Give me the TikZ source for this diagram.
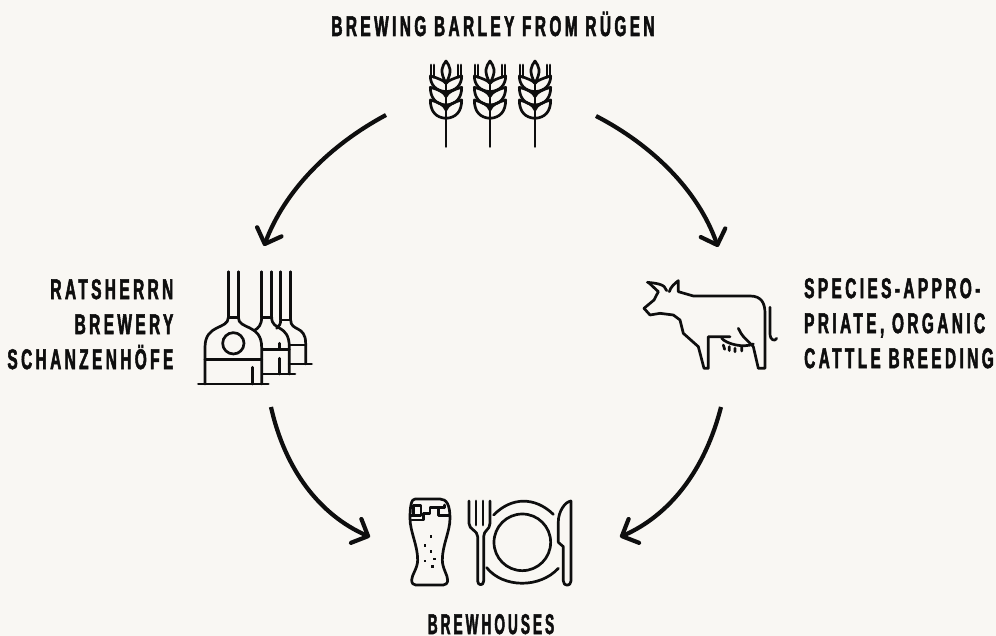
\documentclass[tikz,border=0pt]{standalone}
\usepackage{fontspec}
\usepackage{graphicx}
\setmainfont[BoldFont={Liberation Sans Bold},BoldFeatures={FakeStretch=0.54,LetterSpace=12,FakeBold=1.8}]{Liberation Sans}
\usetikzlibrary{arrows.meta}
\definecolor{paper}{HTML}{F9F7F3}
\definecolor{ink}{HTML}{0E0E0E}
\tikzset{
  lbl/.style={inner sep=0pt,font=\fontsize{28.5}{35}\selectfont\bfseries,text=ink},
  flow/.style={draw=ink,line width=4.2pt,-{Straight Barb[length=13pt,width=26pt,line width=4.2pt,round]}},
  icon/.style={draw=ink,line width=2.7pt,line join=round,line cap=round,x=0.3333pt,y=-0.3333pt}
}
\newcommand{\wheatear}[1]{%
\begin{scope}[shift={(#1,50)}]\begin{scope}[icon]
 \draw (0,33) .. controls (-12,50) and (-20,62) .. (0,100) .. controls (20,62) and (12,50) .. (0,33);
 \draw (0,100) -- (0,290);
 \draw (-45,45) -- (-45,75) (-36,45) -- (-36,82) (45,45) -- (45,75) (36,45) -- (36,82);
 \foreach \b/\t in {125/78,165/112,205/150}{
  \foreach \s in {-1,1}{
   \draw (0,\b) .. controls (\s*30,\b-2) and (\s*47,\b-20) .. (\s*47,\t) .. controls (\s*25,\t+6) and (\s*5,\t+14) .. (0,\b-25);
  }
 }
\end{scope}\end{scope}}
\begin{document}
\begin{tikzpicture}[x=1pt,y=-1pt]
\useasboundingbox (0,0) rectangle (996,636);
\fill[paper] (0,0) rectangle (996,636);
% labels
\node[lbl,anchor=base] (barley) at (493,36) {BREWING BARLEY FROM RÜGEN};
\node[lbl,anchor=north east,align=right] (brewery) at (173.5,279) {RATSHERRN\\BREWERY\\SCHANZENHÖFE};
\node[lbl,anchor=north west,align=left] (cattle) at (804,278) {SPECIES-APPRO-\\PRIATE, ORGANIC\\CATTLE BREEDING};
\node[lbl,anchor=base] (brewhouses) at (491,634) {\scalebox{.885}[1]{BREWHOUSES}};
% wheat
\wheatear{446}\wheatear{490}\wheatear{535}
% brewery icon
\begin{scope}[shift={(190,260)}]\begin{scope}[icon]
 \draw (115,35) -- (115,172) -- (145,172) -- (145,35);
 \draw (115,172) .. controls (115,210) and (45,190) .. (45,262) -- (45,372);
 \draw (145,172) .. controls (145,210) and (215,190) .. (215,262) -- (215,372);
 \draw (25,372) -- (235,372) (45,298) -- (215,298) (188,322) -- (188,372);
 \draw (130,250) circle[radius=32];
 \draw (215,35) -- (215,172) -- (245,172) -- (245,35);
 \draw (215,172) .. controls (215,195) and (205,205) .. (192,212);
 \draw (245,172) .. controls (245,215) and (298,190) .. (298,262) -- (298,342);
 \draw (218,268) -- (298,268) (268,250) -- (268,268) (268,295) -- (268,342) (218,342) -- (315,342);
 \draw (272,35) -- (272,180) -- (302,180) -- (302,35);
 \draw (272,180) .. controls (272,192) and (268,198) .. (260,205);
 \draw (302,180) .. controls (302,215) and (347,195) .. (347,250) -- (347,312);
 \draw (298,255) -- (347,255) (298,312) -- (365,312);
\end{scope}\end{scope}
% cow icon
\begin{scope}[shift={(630,270)}]\begin{scope}[icon]
 \draw (52,37) .. controls (80,40) and (105,42) .. (110,62);
 \draw (55,37) -- (85,65) -- (72,90) -- (42,115) -- (60,135) -- (90,130) -- (130,135) -- (150,150) -- (160,190) -- (205,230) -- (222,295) -- (235,295) -- (235,200) -- (300,200);
 \draw (118,65) .. controls (122,50) and (135,40) .. (145,32) -- (145,65) -- (190,78) -- (360,78) .. controls (395,78) and (405,100) .. (405,130) -- (405,295) -- (385,295) -- (370,230) -- (345,205) .. controls (335,195) and (330,185) .. (325,175);
 \draw (275,205) .. controls (290,222) and (340,235) .. (370,222);
 \draw (280,225) -- (284,238) (298,230) -- (298,242) (315,235) -- (315,245) (335,232) -- (335,243);
 \draw (420,112) -- (420,190) .. controls (420,212) and (435,215) .. (440,205);
\end{scope}\end{scope}
% beer
\begin{scope}[shift={(395,485)}]\begin{scope}[icon]
 \draw (60,42) -- (135,42) .. controls (155,42) and (165,60) .. (165,100) .. controls (165,140) and (142,180) .. (142,225) .. controls (142,250) and (158,270) .. (158,285) .. controls (158,295) and (152,300) .. (145,300) -- (62,300) .. controls (55,300) and (50,295) .. (50,285) .. controls (50,270) and (68,250) .. (68,225) .. controls (68,180) and (45,140) .. (45,100) .. controls (45,60) and (50,42) .. (60,42);
 \draw (55,62) -- (55,90) (48,92) -- (78,92) -- (78,62) -- (55,62) (50,105) -- (85,105) -- (85,85) -- (105,85) -- (105,68) -- (148,68) (130,68) -- (130,92) -- (163,92) (148,60) -- (148,68);
 \foreach \p/\q in {108/155,90/182,108/200,118/222,90/228,112/245}{\fill[ink] (\p-4,\q-4) rectangle (\p+4,\q+4);}
 % fork
 \draw (222,48) -- (222,115) .. controls (222,135) and (248,135) .. (248,155) -- (248,288) .. controls (248,303) and (266,303) .. (266,288) -- (266,155) .. controls (266,135) and (285,135) .. (285,115) -- (285,48);
 \draw (243,48) -- (243,120) (264,48) -- (264,120);
 % plate
 \draw (382,172) circle[radius=85];
 \draw (296,90) .. controls (350,35) and (420,35) .. (475,88);
 \draw (275,248) .. controls (325,310) and (435,310) .. (490,250);
 % knife
 \draw (490,172) -- (490,110) .. controls (490,80) and (510,50) .. (528,48) -- (528,288) .. controls (528,305) and (505,305) .. (505,288) -- (505,185) -- (490,172);
\end{scope}\end{scope}
% anchor points
\coordinate (wheatL) at (386,115);
\coordinate (wheatR) at (596,116);
\coordinate (brewIn) at (264,246);
\coordinate (brewOut) at (271,407);
\coordinate (cowIn) at (718,247);
\coordinate (cowOut) at (721,407);
\coordinate (foodL) at (370,537);
\coordinate (foodR) at (620,537);
\draw[flow] (wheatL) .. controls (330,145) and (285,190) .. (brewIn);
\draw[flow] (wheatR) .. controls (652,145) and (698,190) .. (cowIn);
\draw[flow] (brewOut) .. controls (285,470) and (320,515) .. (foodL);
\draw[flow] (cowOut) .. controls (705,470) and (670,515) .. (foodR);
\end{tikzpicture}
\end{document}
